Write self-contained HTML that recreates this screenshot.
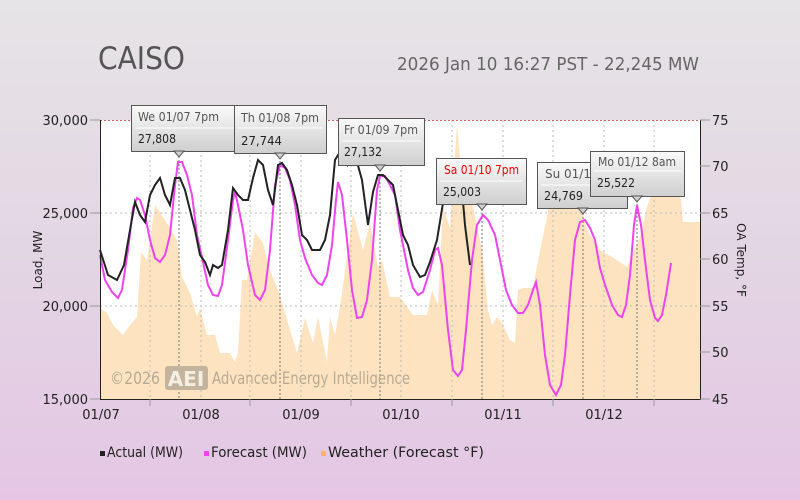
<!DOCTYPE html>
<html><head><meta charset="utf-8"><style>
html,body{margin:0;padding:0;width:800px;height:500px;overflow:hidden}
body{background:linear-gradient(#e6e4e6 0%,#e3d6e3 50%,#e4c6e4 100%);font-family:"Liberation Sans","DejaVu Sans",sans-serif}
</style></head><body>
<svg width="800" height="500" xmlns="http://www.w3.org/2000/svg" font-family="'DejaVu Sans','Liberation Sans',sans-serif">
<defs><linearGradient id="tg" x1="0" y1="0" x2="0" y2="1"><stop offset="0" stop-color="#fafafa"/><stop offset="1" stop-color="#cfcfcf"/></linearGradient></defs>
<text x="98" y="69" font-size="31" fill="#555" textLength="87" lengthAdjust="spacingAndGlyphs">CAISO</text>
<text x="397" y="70" font-size="18" fill="#666" textLength="302" lengthAdjust="spacingAndGlyphs">2026 Jan 10 16:27 PST - 22,245 MW</text>
<rect x="100" y="120" width="600" height="279" fill="#fff"/>
<polygon fill="#fde3c0" points="100,399 100,308 107,313 113,325 123,335 130,325 137,317 141,252 147,260 155,205 167,223 177,240 182,277 190,293 197,317 200,308 207,335 215,335 220,353 230,353 235,362 238,353 242,280 247,280 255,232 263,243 270,270 280,295 288,323 297,353 305,318 313,343 318,317 327,362 330,317 335,335 340,307 353,213 363,250 370,223 378,267 382,260 390,297 400,297 413,315 427,315 432,290 438,305 443,207 450,228 457,125 462,180 473,207 482,250 488,310 492,325 497,317 502,323 510,340 515,343 518,290 523,288 533,288 540,250 547,217 552,190 560,183 575,183 583,215 587,230 600,250 617,260 627,267 633,253 640,237 647,207 653,190 680,190 683,222 700,222 700,399"/>
<g stroke="#bbb" stroke-dasharray="2,3" stroke-width="1">
<line x1="100" y1="213" x2="700" y2="213"/><line x1="100" y1="306" x2="700" y2="306"/>
<line x1="150" y1="120" x2="150" y2="399"/><line x1="250" y1="120" x2="250" y2="399"/><line x1="351" y1="120" x2="351" y2="399"/><line x1="452" y1="120" x2="452" y2="399"/><line x1="553" y1="120" x2="553" y2="399"/><line x1="654" y1="120" x2="654" y2="399"/>
<line x1="201" y1="120" x2="201" y2="399"/><line x1="301" y1="120" x2="301" y2="399"/><line x1="401" y1="120" x2="401" y2="399"/><line x1="503" y1="120" x2="503" y2="399"/><line x1="604" y1="120" x2="604" y2="399"/>
</g>
<g stroke="#777" stroke-dasharray="2,2" stroke-width="1">
<line x1="179" y1="152" x2="179" y2="399"/><line x1="280" y1="153" x2="280" y2="399"/><line x1="380" y1="170" x2="380" y2="399"/><line x1="482" y1="205" x2="482" y2="399"/><line x1="583" y1="209" x2="583" y2="399"/><line x1="637" y1="196" x2="637" y2="399"/>
</g>
<line x1="100" y1="120.5" x2="700" y2="120.5" stroke="#c66" stroke-dasharray="2,2"/>
<text x="110" y="384" font-size="17" fill="#b9aa95" textLength="50" lengthAdjust="spacingAndGlyphs">©2026</text>
<rect x="165" y="366" width="43" height="24" rx="3" fill="#c4b49d"/>
<text x="186" y="386" font-size="20" fill="#f5eee3" text-anchor="middle" font-weight="bold">AEI</text>
<text x="212" y="384" font-size="17" fill="#b9aa95" textLength="198" lengthAdjust="spacingAndGlyphs">Advanced Energy Intelligence</text>
<polyline fill="none" stroke="#ee44ee" stroke-width="2" points="100,255 105,280 112,292 118,298 122,290 128,250 133,208 137,198 140,200 145,215 150,240 155,258 160,262 165,255 170,235 175,185 178,162 182,162 187,175 192,195 197,235 203,262 208,285 213,295 218,296 222,285 228,240 233,200 235,192 238,205 243,230 248,265 255,295 260,300 265,290 270,250 275,185 280,165 285,168 290,180 295,205 300,240 305,258 312,275 318,283 322,285 327,275 332,245 336,200 338,182 342,195 347,240 352,290 357,318 362,317 367,300 372,260 377,190 380,176 385,176 390,185 395,195 400,230 408,270 413,288 418,295 423,292 430,270 435,250 438,248 442,265 448,330 453,370 458,376 462,370 466,330 472,260 477,225 483,215 488,220 495,235 500,260 506,290 512,305 518,313 523,313 528,305 533,290 536,282 540,305 545,355 550,385 556,395 561,385 565,355 570,295 575,240 580,222 585,220 590,228 595,240 600,268 605,285 612,305 618,315 622,317 626,305 630,275 634,225 637,205 641,225 645,260 650,300 655,318 658,321 662,315 666,295 671,263"/>
<polyline fill="none" stroke="#222" stroke-width="2" points="100,250 108,275 117,280 124,265 130,230 135,202 140,215 145,222 150,195 155,185 160,178 165,195 170,205 175,178 180,178 185,190 190,210 195,230 200,255 205,262 210,275 213,265 218,268 222,265 228,230 233,188 238,195 243,200 248,200 253,178 258,160 263,165 268,190 273,205 278,165 282,163 287,170 292,185 297,205 302,235 307,240 312,250 320,250 325,240 330,215 335,160 340,152 345,150 348,165 352,160 357,162 362,180 368,225 373,192 378,175 383,175 388,180 393,185 398,210 403,235 408,245 413,265 420,277 425,275 430,262 437,240 443,203 450,200 455,200 460,195 462,190 465,225 470,265"/>
<line x1="100.5" y1="120" x2="100.5" y2="399" stroke="#222"/>
<line x1="100" y1="399.5" x2="701" y2="399.5" stroke="#222"/>
<line x1="700.5" y1="120" x2="700.5" y2="399" stroke="#222"/>
<g stroke="#999"><line x1="90" y1="120" x2="100" y2="120"/><line x1="90" y1="213" x2="100" y2="213"/><line x1="90" y1="306" x2="100" y2="306"/><line x1="90" y1="399" x2="100" y2="399"/>
<line x1="700" y1="120" x2="710" y2="120"/><line x1="700" y1="166" x2="710" y2="166"/><line x1="700" y1="213" x2="710" y2="213"/><line x1="700" y1="259" x2="710" y2="259"/><line x1="700" y1="306" x2="710" y2="306"/><line x1="700" y1="352" x2="710" y2="352"/><line x1="700" y1="399" x2="710" y2="399"/>
<line x1="150" y1="399" x2="150" y2="406"/><line x1="250" y1="399" x2="250" y2="406"/><line x1="351" y1="399" x2="351" y2="406"/><line x1="452" y1="399" x2="452" y2="406"/><line x1="553" y1="399" x2="553" y2="406"/><line x1="654" y1="399" x2="654" y2="406"/></g>
<g font-size="13" fill="#222" text-anchor="end"><text x="88" y="125">30,000</text><text x="88" y="218">25,000</text><text x="88" y="311">20,000</text><text x="88" y="404">15,000</text></g>
<g font-size="13" fill="#222"><text x="712" y="125">75</text><text x="712" y="171">70</text><text x="712" y="218">65</text><text x="712" y="264">60</text><text x="712" y="311">55</text><text x="712" y="357">50</text><text x="712" y="404">45</text></g>
<text transform="translate(42,260) rotate(-90)" font-size="12" fill="#222" text-anchor="middle">Load, MW</text>
<text transform="translate(737,260) rotate(90)" font-size="12" fill="#222" text-anchor="middle">OA Temp, °F</text>
<g font-size="13" fill="#222" text-anchor="middle"><text x="101" y="419">01/07</text><text x="201" y="419">01/08</text><text x="301" y="419">01/09</text><text x="401" y="419">01/10</text><text x="503" y="419">01/11</text><text x="604" y="419">01/12</text></g>
<g font-size="12">
<g><rect x="131.5" y="105.5" width="140" height="46" fill="url(#tg)" stroke="#555"/><polygon points="174,151 179,157 184,151" fill="#d0d0d0" stroke="#555"/><line x1="135" y1="128" x2="268" y2="128" stroke="#fff"/><text x="138" y="121" fill="#555" textLength="81" lengthAdjust="spacingAndGlyphs">We 01/07 7pm</text><text x="138" y="143" fill="#222" textLength="38" lengthAdjust="spacingAndGlyphs">27,808</text></g>
<g><rect x="234.5" y="105.5" width="92" height="48" fill="url(#tg)" stroke="#555"/><polygon points="275,153 280,159 285,153" fill="#d0d0d0" stroke="#555"/><line x1="238" y1="128" x2="323" y2="128" stroke="#fff"/><text x="241" y="122" fill="#555" textLength="78" lengthAdjust="spacingAndGlyphs">Th 01/08 7pm</text><text x="241" y="145" fill="#222" textLength="41" lengthAdjust="spacingAndGlyphs">27,744</text></g>
<g><rect x="338.5" y="118.5" width="86" height="47" fill="url(#tg)" stroke="#555"/><polygon points="375,165 380,171 385,165" fill="#d0d0d0" stroke="#555"/><line x1="342" y1="141" x2="421" y2="141" stroke="#fff"/><text x="344" y="134" fill="#555" textLength="74" lengthAdjust="spacingAndGlyphs">Fr 01/09 7pm</text><text x="344" y="156" fill="#222" textLength="38" lengthAdjust="spacingAndGlyphs">27,132</text></g>
<g><rect x="436.5" y="158.5" width="90" height="46" fill="url(#tg)" stroke="#555"/><polygon points="477,204 482,210 487,204" fill="#d0d0d0" stroke="#555"/><line x1="440" y1="181" x2="523" y2="181" stroke="#fff"/><text x="444" y="174" fill="#e00" textLength="75" lengthAdjust="spacingAndGlyphs">Sa 01/10 7pm</text><text x="443" y="196" fill="#222" textLength="38" lengthAdjust="spacingAndGlyphs">25,003</text></g>
<g><rect x="537.5" y="162.5" width="90" height="46" fill="url(#tg)" stroke="#555"/><polygon points="578,208 583,214 588,208" fill="#d0d0d0" stroke="#555"/><line x1="541" y1="185" x2="624" y2="185" stroke="#fff"/><text x="545" y="178" fill="#555">Su 01/11</text><text x="544" y="200" fill="#222" textLength="39" lengthAdjust="spacingAndGlyphs">24,769</text></g>
<g><rect x="590.5" y="151.5" width="94" height="45" fill="url(#tg)" stroke="#555"/><polygon points="632,196 637,202 642,196" fill="#d0d0d0" stroke="#555"/><line x1="594" y1="171" x2="681" y2="171" stroke="#fff"/><text x="598" y="166" fill="#555" textLength="78" lengthAdjust="spacingAndGlyphs">Mo 01/12 8am</text><text x="597" y="187" fill="#222" textLength="38" lengthAdjust="spacingAndGlyphs">25,522</text></g>
</g>
<g font-size="14" fill="#222">
<rect x="100" y="451" width="5" height="5" fill="#222"/><text x="107" y="457" textLength="76" lengthAdjust="spacingAndGlyphs">Actual (MW)</text>
<rect x="204" y="451" width="5" height="5" fill="#ee44ee"/><text x="211" y="457" textLength="96" lengthAdjust="spacingAndGlyphs">Forecast (MW)</text>
<rect x="321" y="451" width="5" height="5" fill="#f5b860"/><text x="328" y="457" textLength="156" lengthAdjust="spacingAndGlyphs">Weather (Forecast °F)</text>
</g>
</svg>
</body></html>
